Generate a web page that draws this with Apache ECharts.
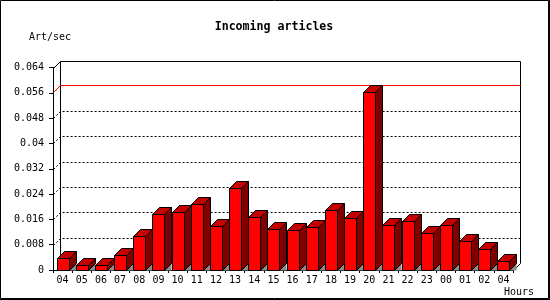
<!DOCTYPE html>
<html><head><meta charset="utf-8">
<script src="https://cdn.jsdelivr.net/npm/echarts@6/dist/echarts.min.js"></script>
<style>html,body{margin:0;padding:0;background:#fff}#c{width:550px;height:300px}</style>
</head><body><div id="c"></div>
<script>
const hours = ['04','05','06','07','08','09','10','11','12','13','14','15','16','17','18','19','20','21','22','23','00','01','02','04'];
const artPerSec = [0.0037, 0.0015, 0.0015, 0.0046, 0.0109, 0.0176, 0.0182, 0.0210, 0.0138, 0.0258, 0.0169, 0.0131,
                   0.0128, 0.0137, 0.0191, 0.0163, 0.0564, 0.0143, 0.0156, 0.0118, 0.0141, 0.0092, 0.0065, 0.0030];
const yTickLabels = ['0','0.008','0.016','0.024','0.032','0.04','0.048','0.056','0.064'];
const yStep = 0.008;
const yMax = 0.064;
const titleText = 'Incoming articles';
const yName = 'Art/sec';
const xName = 'Hours';

const D = 7;
const mono = '"DejaVu Sans Mono", "Liberation Mono", monospace';
const maxVal = Math.max.apply(null, artPerSec);
function h(v){ return Math.round(v) + 0.5; }
const blk = {stroke:'#000', lineWidth:1, fill:null};

function renderWall(params, api){
  const cs = params.coordSys;
  const x0 = h(cs.x), x1 = h(cs.x + cs.width);
  const y0 = h(api.coord([0, 0])[1]);
  const yT = h(api.coord([0, yMax])[1]);
  const ym = h(api.coord([0, maxVal])[1]);
  const ch = [];
  ch.push({type:'line', shape:{x1:x0+D, y1:yT-D, x2:x0+D, y2:y0-D}, style:blk});
  ch.push({type:'line', shape:{x1:x1+D, y1:yT-D, x2:x1+D, y2:y0-D}, style:blk});
  ch.push({type:'line', shape:{x1:x1, y1:y0, x2:x1+D, y2:y0-D}, style:blk});
  for (let i = 1; i < yTickLabels.length - 1; i++){
    const y = h(api.coord([0, i*yStep])[1]);
    if (Math.abs(y - ym) <= 2) continue;
    ch.push({type:'polyline', shape:{points:[[x0,y],[x0+D,y-D],[x1+D,y-D]]},
      style:{stroke:'#000', lineWidth:1, fill:null, lineDash:[2,2]}});
  }
  ch.push({type:'polyline', shape:{points:[[x0,yT],[x0+D,yT-D],[x1+D,yT-D]]}, style:blk});
  return {type:'group', children:ch};
}

function renderMaxLine(params, api){
  const cs = params.coordSys;
  const x0 = h(cs.x), x1 = h(cs.x + cs.width);
  const ym = h(api.coord([0, api.value(1)])[1]);
  return {type:'polyline', shape:{points:[[x0,ym],[x0+D,ym-D],[x1+D,ym-D]]},
    style:{stroke:'#ff0000', lineWidth:1, fill:'none', opacity:1}};
}

function renderBar(params, api){
  const i = api.value(0), v = api.value(1);
  const top = api.coord([i, v]);
  const base = api.coord([i, 0]);
  const band = api.size([1, 0])[0];
  const w = Math.round(band * 0.62);
  const xl = Math.round(top[0] - w/2) + 0.5, xr = xl + w;
  const yt = h(top[1]), yb = h(base[1]);
  return {type:'group', children:[
    {type:'polygon', shape:{points:[[xr,yb],[xr+D,yb-D],[xr+D,yb]]}, style:{fill:'#8c8c8c', stroke:null}},
    {type:'polygon', shape:{points:[[xr,yt],[xr+D,yt-D],[xr+D,yb-D],[xr,yb]]}, style:{fill:'#800000', stroke:'#000', lineWidth:1}},
    {type:'polygon', shape:{points:[[xl,yt],[xl+D,yt-D],[xr+D,yt-D],[xr,yt]]}, style:{fill:'#c40000', stroke:'#000', lineWidth:1}},
    {type:'rect', shape:{x:xl, y:yt, width:w, height:yb-yt}, style:{fill:'#ff0000', stroke:'#000', lineWidth:1}}
  ]};
}

const chart = echarts.init(document.getElementById('c'), null, {renderer:'canvas'});
chart.setOption({
  animation:false,
  backgroundColor:'#fff',
  grid:{left:53, right:37, top:67.5, bottom:30, containLabel:false},
  xAxis:{type:'category', data:hours,
    axisLine:{show:true, lineStyle:{color:'#000', width:1}},
    axisTick:{show:true, length:3, alignWithLabel:false, interval:0, lineStyle:{color:'#000'}},
    axisLabel:{interval:0, margin:5, color:'#000', fontFamily:mono, fontSize:10},
    splitLine:{show:false}},
  yAxis:{type:'value', min:0, max:yMax, interval:yStep,
    axisLine:{show:true, lineStyle:{color:'#000', width:1}},
    axisTick:{show:true, length:4, lineStyle:{color:'#000'}},
    axisLabel:{margin:9, color:'#000', fontFamily:mono, fontSize:10,
      formatter:function(val){ return yTickLabels[Math.round(val/yStep)]; }},
    splitLine:{show:false}},
  graphic:[
    {type:'rect', shape:{x:0.5, y:0.5, width:548, height:298}, style:{fill:null, stroke:'#000', lineWidth:1}, z:100},
    {type:'line', shape:{x1:549.5, y1:0, x2:549.5, y2:300}, style:{stroke:'#000', lineWidth:1}, z:100},
    {type:'line', shape:{x1:0, y1:299.5, x2:550, y2:299.5}, style:{stroke:'#000', lineWidth:1}, z:100},
    {type:'text', x:274, y:27, style:{text:titleText, font:'bold 11.6px ' + mono, fill:'#000', textAlign:'center', textVerticalAlign:'middle'}},
    {type:'text', x:29, y:37, style:{text:yName, font:'10px ' + mono, fill:'#000', textAlign:'left', textVerticalAlign:'middle'}},
    {type:'text', x:504, y:292, style:{text:xName, font:'10px ' + mono, fill:'#000', textAlign:'left', textVerticalAlign:'middle'}}
  ],
  series:[
    {type:'custom', z:1, silent:true, data:[[0, 0]], renderItem:renderWall},
    {type:'custom', z:2, silent:true, itemStyle:{color:'#ff0000'}, data:[[0, maxVal]], renderItem:renderMaxLine},
    {type:'custom', z:3, silent:true, data:artPerSec.map(function(v, i){ return [i, v]; }), renderItem:renderBar}
  ]
});
</script>
</body></html>
